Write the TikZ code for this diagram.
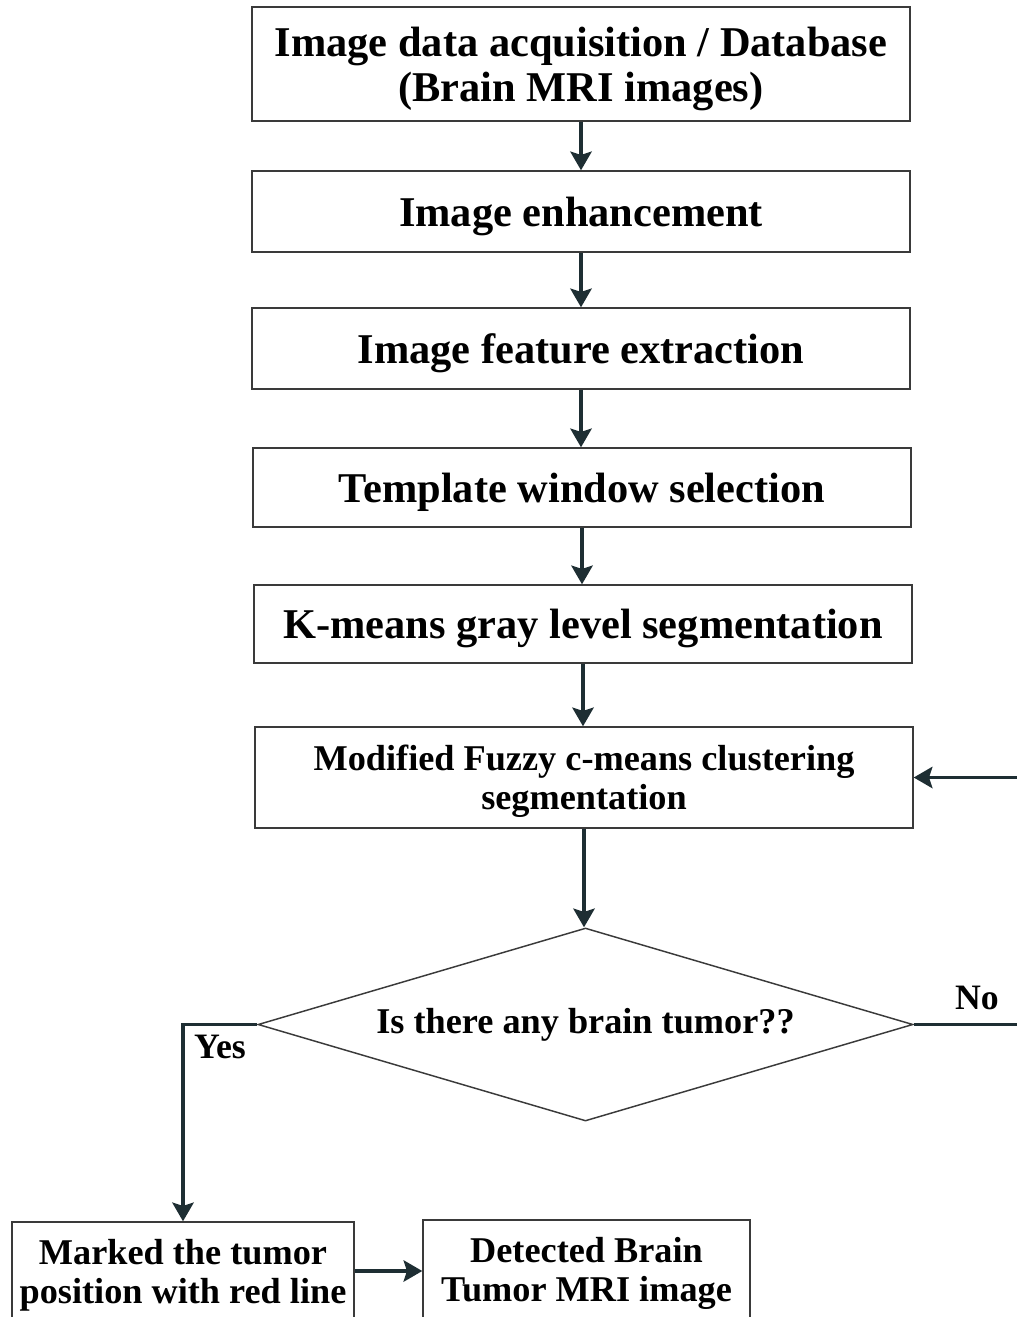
\documentclass[tikz,border=0pt]{standalone}
\usepackage{fontspec}
\setmainfont{Liberation Serif}
\usetikzlibrary{arrows.meta,shapes.geometric,calc}
\definecolor{linec}{HTML}{1E2E33}
\definecolor{boxc}{HTML}{3A3A3A}
\tikzset{
  bigbox/.style={draw=boxc, line width=1.1pt, inner sep=0pt, minimum width=658*0.75pt,
    text depth=0pt, align=center, font=\fontsize{31.8}{34}\selectfont\bfseries, text=black},
  smallbox/.style={draw=boxc, line width=1.1pt, inner sep=0pt, align=center, text depth=0pt,
    font=\fontsize{27.2}{29.25}\selectfont\bfseries, text=black},
  decision/.style={draw=boxc, line width=1.1pt, diamond, aspect=3.39, inner sep=0pt,
    minimum width=655*0.75pt, minimum height=193*0.75pt,
    font=\fontsize{27.2}{29.25}\selectfont\bfseries, text=black},
  lbl/.style={font=\fontsize{26.8}{29}\selectfont\bfseries, text=black, inner sep=0pt},
  flow/.style={draw=linec, line width=2.5pt, -{Stealth[length=14pt,width=16pt,inset=2.5pt]}}
}
\begin{document}
\begin{tikzpicture}[x=0.75pt,y=-0.75pt]
\useasboundingbox (0,0) rectangle (1017,1317);
\node[bigbox, minimum height=114*0.75pt] (b1) at (581,64) {Image data acquisition / Database\\(Brain MRI images)};
\node[bigbox, minimum height=81*0.75pt] (b2) at (581,211.5) {Image enhancement};
\node[bigbox, minimum height=81*0.75pt] (b3) at (581,348.5) {Image feature extraction};
\node[bigbox, minimum height=79*0.75pt] (b4) at (582,487.5) {Template window selection};
\node[bigbox, minimum height=78*0.75pt] (b5) at (583,624) {K-means gray level segmentation};
\node[smallbox, minimum width=658*0.75pt, minimum height=101*0.75pt] (b6) at (584,777.5) {Modified Fuzzy c-means clustering\\segmentation};
\node[decision] (d) at (585.5,1024.5) {Is there any brain tumor??};
\node[smallbox, minimum width=342*0.75pt, minimum height=98*0.75pt] (m) at (183,1271) {Marked the tumor\\position with red line};
\node[smallbox, minimum width=327*0.75pt, minimum height=98*0.75pt] (dt) at (586.5,1269) {Detected Brain\\Tumor MRI image};
\node[lbl] (no) at (977,998) {No};
\node[lbl] (yes) at (220,1047) {Yes};
\coordinate (r) at (1030,1024.5);

\draw[flow] (b1.south) -- (b1.south |- b2.north);
\draw[flow] (b2.south) -- (b2.south |- b3.north);
\draw[flow] (b3.south) -- (b3.south |- b4.north);
\draw[flow] (b4.south) -- (b4.south |- b5.north);
\draw[flow] (b5.south) -- (b5.south |- b6.north);
\draw[flow] (b6.south) -- (b6.south |- d.north);
\draw[flow] (d.west) -| (m.north);
\draw[flow] (m.east) -- (m.east -| dt.west);
\draw[flow] (d.east) -- (r) |- (b6.east);
\end{tikzpicture}
\end{document}
